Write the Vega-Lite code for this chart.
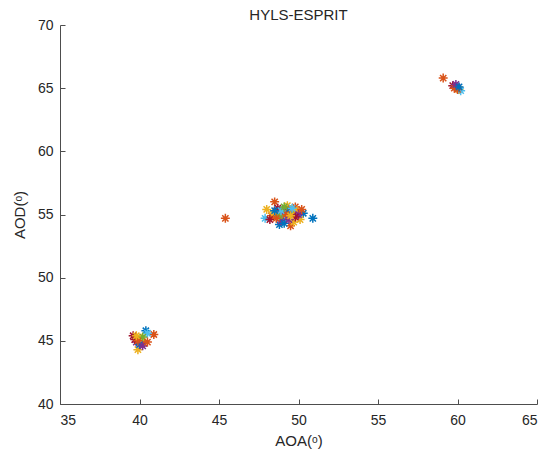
{
  "$schema": "https://vega.github.io/schema/vega-lite/v6.json",
  "width": 477,
  "height": 379,
  "autosize": {"type": "none"},
  "padding": {"left": 60, "top": 25, "right": 16, "bottom": 53},
  "background": "white",
  "title": {"text": "HYLS-ESPRIT", "font": "Liberation Sans", "fontSize": 15, "fontWeight": "normal", "color": "#262626", "offset": -5},
  "config": {"view": {"stroke": null}},
  "data": {"values": [
    {"aoa": 39.6, "aod": 45.4, "run": "r7"},
    {"aoa": 40.4, "aod": 45.8, "run": "r1"},
    {"aoa": 40.9, "aod": 45.5, "run": "r2"},
    {"aoa": 40.3, "aod": 44.8, "run": "r2"},
    {"aoa": 39.9, "aod": 44.3, "run": "r3"},
    {"aoa": 39.8, "aod": 44.9, "run": "r4"},
    {"aoa": 40.1, "aod": 45.2, "run": "r3"},
    {"aoa": 40.5, "aod": 45.6, "run": "r6"},
    {"aoa": 39.7, "aod": 45.1, "run": "r7"},
    {"aoa": 40.0, "aod": 44.7, "run": "r1"},
    {"aoa": 40.2, "aod": 45.3, "run": "r5"},
    {"aoa": 39.9, "aod": 45.0, "run": "r2"},
    {"aoa": 40.2, "aod": 44.6, "run": "r4"},
    {"aoa": 40.5, "aod": 44.9, "run": "r2"},
    {"aoa": 39.8, "aod": 45.4, "run": "r3"},
    {"aoa": 48.5, "aod": 56.0, "run": "r2"},
    {"aoa": 47.9, "aod": 54.7, "run": "r6"},
    {"aoa": 48.0, "aod": 55.4, "run": "r3"},
    {"aoa": 50.9, "aod": 54.7, "run": "r1"},
    {"aoa": 50.3, "aod": 55.1, "run": "r1"},
    {"aoa": 49.3, "aod": 55.7, "run": "r3"},
    {"aoa": 49.8, "aod": 55.6, "run": "r2"},
    {"aoa": 48.8, "aod": 54.2, "run": "r1"},
    {"aoa": 49.5, "aod": 54.1, "run": "r2"},
    {"aoa": 48.6, "aod": 55.2, "run": "r4"},
    {"aoa": 49.0, "aod": 55.0, "run": "r7"},
    {"aoa": 49.6, "aod": 55.1, "run": "r5"},
    {"aoa": 49.2, "aod": 54.8, "run": "r6"},
    {"aoa": 48.9, "aod": 54.5, "run": "r4"},
    {"aoa": 49.9, "aod": 55.3, "run": "r3"},
    {"aoa": 48.3, "aod": 54.9, "run": "r2"},
    {"aoa": 50.1, "aod": 54.6, "run": "r3"},
    {"aoa": 49.4, "aod": 55.4, "run": "r2"},
    {"aoa": 48.7, "aod": 55.5, "run": "r7"},
    {"aoa": 49.1, "aod": 54.3, "run": "r1"},
    {"aoa": 50.0, "aod": 55.0, "run": "r4"},
    {"aoa": 48.4, "aod": 55.1, "run": "r3"},
    {"aoa": 49.7, "aod": 54.4, "run": "r3"},
    {"aoa": 48.8, "aod": 54.9, "run": "r5"},
    {"aoa": 49.3, "aod": 55.2, "run": "r1"},
    {"aoa": 49.6, "aod": 55.5, "run": "r6"},
    {"aoa": 48.2, "aod": 54.6, "run": "r7"},
    {"aoa": 48.6, "aod": 54.7, "run": "r2"},
    {"aoa": 49.0, "aod": 55.4, "run": "r4"},
    {"aoa": 49.2, "aod": 55.0, "run": "r2"},
    {"aoa": 49.8, "aod": 54.8, "run": "r7"},
    {"aoa": 48.9, "aod": 55.3, "run": "r6"},
    {"aoa": 49.4, "aod": 54.6, "run": "r4"},
    {"aoa": 50.2, "aod": 55.4, "run": "r2"},
    {"aoa": 49.1, "aod": 55.6, "run": "r5"},
    {"aoa": 48.5, "aod": 55.3, "run": "r1"},
    {"aoa": 49.5, "aod": 54.9, "run": "r3"},
    {"aoa": 45.4, "aod": 54.7, "run": "r2"},
    {"aoa": 59.1, "aod": 65.8, "run": "r2"},
    {"aoa": 59.7, "aod": 65.2, "run": "r7"},
    {"aoa": 59.9, "aod": 65.1, "run": "r4"},
    {"aoa": 60.0, "aod": 65.0, "run": "r1"},
    {"aoa": 60.1, "aod": 64.9, "run": "r3"},
    {"aoa": 60.2, "aod": 64.8, "run": "r6"},
    {"aoa": 59.8, "aod": 65.0, "run": "r2"},
    {"aoa": 60.0, "aod": 64.9, "run": "r2"},
    {"aoa": 59.9, "aod": 65.3, "run": "r4"},
    {"aoa": 60.1, "aod": 65.1, "run": "r1"}
  ]},
  "mark": {
    "type": "point",
    "shape": "M0,-1L0,1M-1,0L1,0M-0.7,-0.7L0.7,0.7M-0.7,0.7L0.7,-0.7",
    "filled": false,
    "size": 80,
    "strokeWidth": 1.5,
    "opacity": 1
  },
  "encoding": {
    "x": {
      "field": "aoa", "type": "quantitative",
      "scale": {"domain": [35, 65], "nice": false, "zero": false},
      "axis": {
        "title": "AOA(ᵒ)", "values": [35, 40, 45, 50, 55, 60, 65],
        "grid": false, "domainColor": "#4d4d4d", "tickColor": "#4d4d4d",
        "tickSize": -5, "labelPadding": 14, "labelFont": "Liberation Sans", "labelFontSize": 14,
        "labelColor": "#262626", "titleFont": "Liberation Sans", "titleFontSize": 15,
        "titleFontWeight": "normal", "titleColor": "#262626", "titlePadding": 6
      }
    },
    "y": {
      "field": "aod", "type": "quantitative",
      "scale": {"domain": [40, 70], "nice": false, "zero": false},
      "axis": {
        "title": "AOD(ᵒ)", "values": [40, 45, 50, 55, 60, 65, 70],
        "grid": false, "domainColor": "#4d4d4d", "tickColor": "#4d4d4d",
        "tickSize": -5, "labelPadding": 12, "labelFont": "Liberation Sans", "labelFontSize": 14,
        "labelColor": "#262626", "titleFont": "Liberation Sans", "titleFontSize": 15,
        "titleFontWeight": "normal", "titleColor": "#262626", "titlePadding": 10
      }
    },
    "color": {
      "field": "run", "type": "nominal", "legend": null,
      "scale": {"domain": ["r1", "r2", "r3", "r4", "r5", "r6", "r7"],
                "range": ["#0072BD", "#D95319", "#EDB120", "#7E2F8E", "#77AC30", "#4DBEEE", "#A2142F"]}
    }
  }
}
